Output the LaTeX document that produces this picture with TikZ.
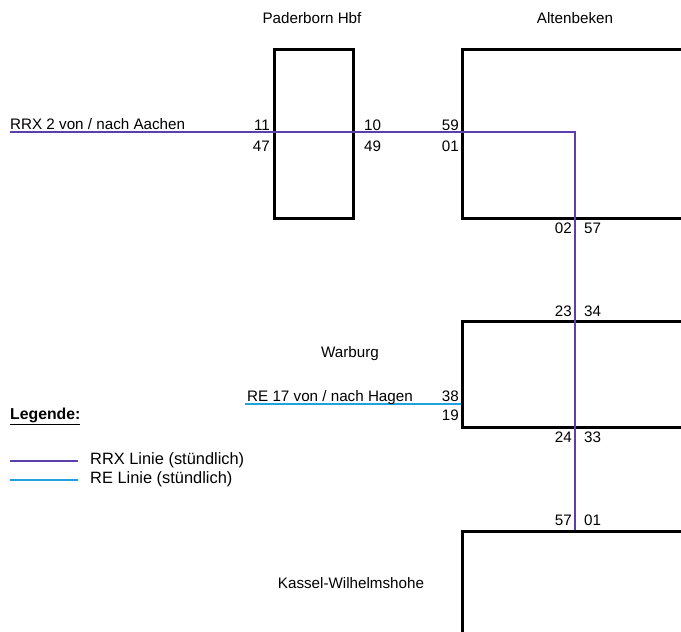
\documentclass[tikz,border=0pt]{standalone}
\usepackage{fontspec}
\setmainfont{Liberation Sans}
\definecolor{rrx}{RGB}{92,62,172}
\definecolor{re}{RGB}{32,162,222}
\begin{document}
\begin{tikzpicture}[x=1pt,y=-1pt,
  every node/.style={font=\fontsize{15.2}{17}\selectfont, inner sep=0pt},
  station/.style={draw=black, line width=2.6pt, minimum width=#1, anchor=north west},
  rrxline/.style={draw=rrx, line width=1.8pt},
  reline/.style={draw=re, line width=1.8pt},
  num/.style={},
  lbl/.style={},
  legtext/.style={anchor=west, font=\fontsize{16.4}{18}\selectfont}]
\useasboundingbox (0,0) rectangle (681,632);
\clip (0,0) rectangle (681,632);
% station boxes
\node[station=79pt, minimum height=169pt] (pad) at (273,48) {};
\node[station=260pt, minimum height=169pt] (alt) at (461,48) {};
\node[station=260pt, minimum height=106pt] (war) at (461,320) {};
\node[station=260pt, minimum height=140pt] (kas) at (461,530) {};
% station names
\node[lbl] (tpad) at (312,18) {Paderborn Hbf};
\node[lbl] (talt) at (575,18) {Altenbeken};
\node[lbl] (twar) at (350,354) {Warburg};
\node[lbl] (tkas) at (351,583) {Kassel-Wilhelmshohe};
% RRX line
\coordinate (rrxstart) at (10,132);
\coordinate (rrxbend) at (575,132);
\coordinate (rrxend) at (575,530);
\draw[rrxline] (rrxstart) -- (rrxbend) -- (rrxend);
% RE line
\coordinate (restart) at (245,404);
\coordinate (reend) at (461,404);
\draw[reline] (restart) -- (reend);
% line labels
\node[lbl, anchor=base west] (lrrx) at (10,129) {RRX 2 von / nach Aachen};
\node[lbl, anchor=base west] (lre) at (247,401) {RE 17 von / nach Hagen};
% times Paderborn
\node[num, anchor=east] (n11) at (270,125) {11};
\node[num, anchor=east] (n47) at (270,146) {47};
\node[num, anchor=west] (n10) at (364,125) {10};
\node[num, anchor=west] (n49) at (364,146) {49};
% Altenbeken
\node[num, anchor=east] (n59) at (459,125) {59};
\node[num, anchor=east] (n01a) at (459,146) {01};
\node[num, anchor=east] (n02) at (572,228) {02};
\node[num, anchor=west] (n57a) at (584,228) {57};
% Warburg
\node[num, anchor=east] (n23) at (572,311) {23};
\node[num, anchor=west] (n34) at (584,311) {34};
\node[num, anchor=east] (n38) at (459,396) {38};
\node[num, anchor=east] (n19) at (459,415) {19};
\node[num, anchor=east] (n24) at (572,437) {24};
\node[num, anchor=west] (n33) at (584,437) {33};
% Kassel
\node[num, anchor=east] (n57b) at (572,520) {57};
\node[num, anchor=west] (n01b) at (584,520) {01};
% legend
\node[lbl, anchor=west, font=\fontsize{15.8}{17}\selectfont\bfseries] (leg) at (10,416) {\underline{Legende:}};
\coordinate (l1a) at (10,461);
\coordinate (l1b) at (78,461);
\coordinate (l2a) at (10,480);
\coordinate (l2b) at (78,480);
\draw[rrxline] (l1a) -- (l1b);
\draw[reline] (l2a) -- (l2b);
\node[legtext] (leg1) at (90,460) {RRX Linie (stündlich)};
\node[legtext] (leg2) at (90,479) {RE Linie (stündlich)};
\end{tikzpicture}
\end{document}
